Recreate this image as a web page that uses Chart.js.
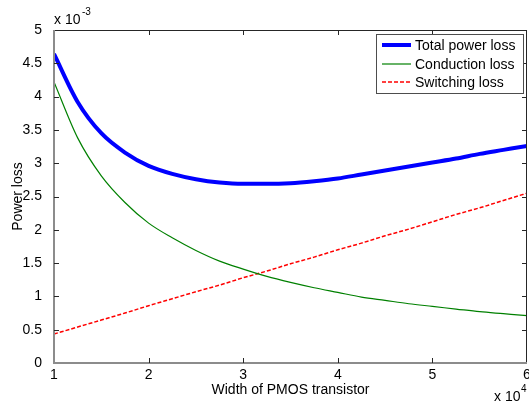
<!DOCTYPE html>
<html>
<head>
<meta charset="utf-8">
<script src="https://cdn.jsdelivr.net/npm/chart.js@4"></script>
<style>
  body { margin: 0; background: #fff; }
</style>
</head>
<body>
<canvas id="myChart" width="529" height="405"></canvas>
<script>
// widths in units of 1e4, losses in units of 1e-3
const widths = [1, 1.25, 1.5, 1.75, 2, 2.25, 2.5, 2.75, 3, 3.25, 3.5, 3.75, 4, 4.25, 4.5, 4.75, 5, 5.25, 5.5, 5.75, 6];
const totalLoss = [4.64, 3.92, 3.45, 3.16, 2.96, 2.84, 2.76, 2.71, 2.69, 2.69, 2.70, 2.73, 2.77, 2.83, 2.89, 2.95, 3.01, 3.07, 3.14, 3.20, 3.26];
const conductionLoss = [4.22, 3.38, 2.81, 2.41, 2.10, 1.88, 1.69, 1.53, 1.41, 1.30, 1.21, 1.13, 1.06, 0.99, 0.94, 0.89, 0.85, 0.81, 0.77, 0.74, 0.71];
const switchingLoss = [0.435, 0.54, 0.645, 0.75, 0.86, 0.965, 1.07, 1.17, 1.28, 1.38, 1.49, 1.59, 1.70, 1.80, 1.91, 2.01, 2.12, 2.23, 2.33, 2.44, 2.55];
const seriesNames = ['Total power loss', 'Conduction loss', 'Switching loss'];
const xTicks = [1, 2, 3, 4, 5, 6];
const yTicks = [0, 0.5, 1, 1.5, 2, 2.5, 3, 3.5, 4, 4.5, 5];

const FONT = "'Liberation Sans', Arial, sans-serif";
const FSIZE = 14;

const toPoints = vals => vals.map((v, i) => ({ x: widths[i], y: v }));

const matlabFrame = {
  id: 'matlabFrame',
  afterDraw(chart) {
    const { ctx, chartArea: a, scales } = chart;
    const xs = scales.x, ys = scales.y;
    ctx.save();
    ctx.lineCap = 'butt';

    // box
    ctx.strokeStyle = '#262626';
    ctx.lineWidth = 1;
    ctx.beginPath();
    ctx.moveTo(a.left, a.top + 0.5); ctx.lineTo(a.right, a.top + 0.5);
    ctx.moveTo(a.right - 0.5, a.top); ctx.lineTo(a.right - 0.5, a.bottom);
    ctx.stroke();
    ctx.strokeStyle = '#8c8c8c';
    ctx.lineWidth = 2;
    ctx.beginPath();
    ctx.moveTo(a.left, a.top); ctx.lineTo(a.left, a.bottom + 1);
    ctx.moveTo(a.left, a.bottom); ctx.lineTo(a.right, a.bottom);
    ctx.stroke();

    // inward ticks
    ctx.strokeStyle = '#262626';
    ctx.lineWidth = 1;
    ctx.beginPath();
    xTicks.forEach(v => {
      const px = Math.round(xs.getPixelForValue(v)) + 0.5;
      if (v === xTicks[0] || v === xTicks[xTicks.length - 1]) return;
      ctx.moveTo(px, a.bottom); ctx.lineTo(px, a.bottom - 5);
      ctx.moveTo(px, a.top); ctx.lineTo(px, a.top + 5);
    });
    yTicks.forEach(v => {
      const py = Math.round(ys.getPixelForValue(v)) + 0.5;
      if (v === yTicks[0] || v === yTicks[yTicks.length - 1]) return;
      ctx.moveTo(a.left, py); ctx.lineTo(a.left + 5, py);
      ctx.moveTo(a.right, py); ctx.lineTo(a.right - 5, py);
    });
    ctx.stroke();

    // axis titles
    ctx.fillStyle = '#000';
    ctx.font = FSIZE + 'px ' + FONT;
    ctx.textAlign = 'center';
    ctx.textBaseline = 'alphabetic';
    ctx.fillText('Width of PMOS transistor', (a.left + a.right) / 2, 394);
    ctx.save();
    ctx.translate(22, (a.top + a.bottom) / 2);
    ctx.rotate(-Math.PI / 2);
    ctx.fillText('Power loss', 0, 0);
    ctx.restore();

    // exponent labels
    ctx.textAlign = 'left';
    ctx.fillText('x 10', 54, 24);
    ctx.fillText('x 10', 494, 401);
    ctx.font = '10px ' + FONT;
    ctx.fillText('-3', 82, 15);
    ctx.fillText('4', 521, 392);

    // legend
    const lx = 376, ly = 34, lw = 147, lh = 59;
    ctx.fillStyle = '#fff';
    ctx.fillRect(lx, ly, lw, lh);
    ctx.strokeStyle = '#4d4d4d';
    ctx.lineWidth = 1;
    ctx.strokeRect(lx + 0.5, ly + 0.5, lw, lh);
    const rows = [45, 64, 82];
    chart.data.datasets.forEach((ds, i) => {
      const y = rows[i];
      ctx.strokeStyle = ds.borderColor;
      ctx.lineWidth = ds.borderWidth;
      ctx.setLineDash(ds.borderDash || []);
      ctx.beginPath();
      ctx.moveTo(382, y); ctx.lineTo(411, y);
      ctx.stroke();
      ctx.setLineDash([]);
      ctx.fillStyle = '#000';
      ctx.font = FSIZE + 'px ' + FONT;
      ctx.textBaseline = 'middle';
      ctx.fillText(ds.label, 415, y + 1);
    });
    ctx.restore();
  }
};

new Chart(document.getElementById('myChart'), {
  type: 'line',
  data: {
    datasets: [{
      label: seriesNames[0],
      data: toPoints(totalLoss),
      borderColor: '#0000ff',
      borderWidth: 4,
      pointRadius: 0,
      cubicInterpolationMode: 'monotone'
    }, {
      label: seriesNames[1],
      data: toPoints(conductionLoss),
      borderColor: '#008000',
      borderWidth: 1.2,
      pointRadius: 0,
      cubicInterpolationMode: 'monotone'
    }, {
      label: seriesNames[2],
      data: toPoints(switchingLoss),
      borderColor: '#ff0000',
      borderWidth: 1.5,
      borderDash: [4, 2],
      pointRadius: 0,
      cubicInterpolationMode: 'monotone'
    }]
  },
  options: {
    responsive: false,
    animation: false,
    layout: { padding: { left: 0, right: 2, top: 30, bottom: 0 } },
    plugins: {
      legend: { display: false },
      tooltip: { enabled: false }
    },
    scales: {
      x: {
        type: 'linear',
        min: 1,
        max: 6,
        afterBuildTicks: s => { s.ticks = xTicks.map(v => ({ value: v })); },
        ticks: { color: '#000', font: { family: FONT, size: FSIZE }, padding: -4, maxRotation: 0, callback: v => String(v) },
        grid: { display: false },
        border: { display: false },
        afterFit: s => { s.height = 42; s.paddingLeft = 0; s.paddingRight = 0; }
      },
      y: {
        min: 0,
        max: 5,
        afterBuildTicks: s => { s.ticks = yTicks.map(v => ({ value: v })); },
        ticks: { color: '#000', font: { family: FONT, size: FSIZE }, padding: 4, callback: v => String(v) },
        grid: { display: false },
        border: { display: false },
        afterFit: s => { s.width = 54; s.paddingTop = 0; s.paddingBottom = 0; }
      }
    }
  },
  plugins: [matlabFrame]
});
</script>
</body>
</html>
